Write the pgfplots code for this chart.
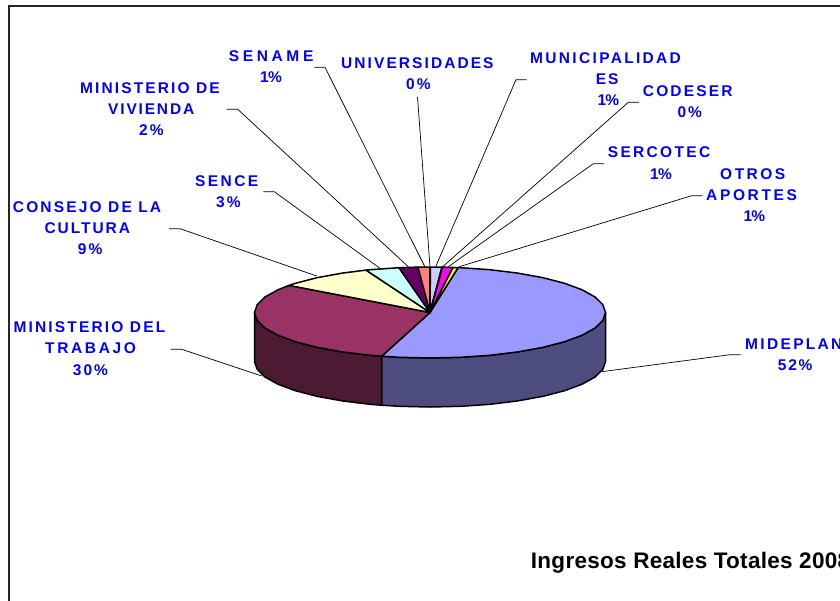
\documentclass[border=0pt]{standalone}
\usepackage{fontspec}
\setmainfont{Liberation Sans}
\usepackage{pgfplots}
\pgfplotsset{compat=1.18}
\definecolor{cMide}{HTML}{9999FF}
\definecolor{cTrab}{HTML}{993366}
\definecolor{cCult}{HTML}{FFFFCC}
\definecolor{cSenc}{HTML}{CCFFFF}
\definecolor{cVivi}{HTML}{660066}
\definecolor{cSena}{HTML}{FF8080}
\definecolor{cUniv}{HTML}{0066CC}
\definecolor{cMuni}{HTML}{CCCCFF}
\definecolor{cCode}{HTML}{000080}
\definecolor{cSerc}{HTML}{FF00FF}
\definecolor{cOtro}{HTML}{FFFF00}
\definecolor{cMideD}{HTML}{4D4D80}
\definecolor{cTrabD}{HTML}{4D1A33}
\definecolor{cBlue}{HTML}{0000FF}
\newcommand\lab[4]{\node[anchor=base west,inner sep=0pt,text=cBlue,font=\fontsize{15.5pt}{15.5pt}\selectfont\bfseries] at (axis cs:#1,#2) {\addfontfeature{LetterSpace=#3}#4};}
\begin{document}
\begin{tikzpicture}
\useasboundingbox (0,0) rectangle (840pt,600pt);
\clip (0,0) rectangle (840pt,600pt);
\begin{axis}[
  at={(0,0)},anchor=south west,
  width=840pt,height=600pt,scale only axis,
  xmin=0,xmax=840,ymin=0,ymax=600,y dir=reverse,
  hide axis,
  pie/.style={draw=black,line width=1.5pt,line join=round},
  lead/.style={draw=black,line width=0.7pt,mark=none},
]
% frame
\addplot[draw=black!85,line width=1.2pt] coordinates {(9,620) (9,6) (860,6)};
% walls
\addplot[pie,fill=cMideD] coordinates {
(381.7,356.2)(399.5,357.3)(430,358)(460.5,357.3)(490,355.3)(517.75,351.9)(542.8,347.35)(564.4,341.75)(582,335.25)(594.9,328.1)(602.8,320.4)(605.5,312.5)
(605.5,361.5)(602.8,369.4)(594.9,377.1)(582,384.25)(564.4,390.75)(542.8,396.35)(517.75,400.9)(490,404.3)(460.5,406.3)(430,407)(399.5,406.3)(381.7,405.2)} --cycle;
\addplot[pie,fill=cTrabD] coordinates {
(254.5,312.5)(257.2,320.4)(265.1,328.1)(278,335.25)(295.6,341.75)(317.2,347.35)(342.25,351.9)(370,355.3)(381.7,356.2)
(381.7,405.2)(370,404.3)(342.25,400.9)(317.2,396.35)(295.6,390.75)(278,384.25)(265.1,377.1)(257.2,369.4)(254.5,361.5)} --cycle;
% top surface
\addplot[pie,fill=cMide] coordinates {
(430,312.5)(458,267.7)(460.5,267.7)(490,269.7)(517.75,273.1)(542.8,277.65)(564.4,283.25)(582,289.75)(594.9,296.9)(602.8,304.6)(605.5,312.5)
(602.8,320.4)(594.9,328.1)(582,335.25)(564.4,341.75)(542.8,347.35)(517.75,351.9)(490,355.3)(460.5,357.3)(430,358)(399.5,357.3)(381.7,356.2)} --cycle;
\addplot[pie,fill=cTrab] coordinates {
(430,312.5)(381.7,356.2)(370,355.3)(342.25,351.9)(317.2,347.35)(295.6,341.75)(278,335.25)(265.1,328.1)(257.2,320.4)(254.5,312.5)
(257.2,304.6)(265.1,296.9)(278,289.75)(289,285.4)} --cycle;
\addplot[pie,fill=cCult] coordinates {(430,312.5)(289,285.4)(295.6,283.25)(317.2,277.65)(342.25,273.1)(366,270.1)} --cycle;
\addplot[pie,fill=cSenc] coordinates {(430,312.5)(366,270.1)(370,269.7)(399,267.7)} --cycle;
\addplot[pie,fill=cVivi] coordinates {(430,312.5)(399,267.7)(418,267.1)} --cycle;
\addplot[pie,fill=cSena] coordinates {(430,312.5)(418,267.1)(430,267)} --cycle;
\addplot[pie,fill=cUniv] coordinates {(430,312.5)(430,267)(430.4,267)} --cycle;
\addplot[pie,fill=cMuni] coordinates {(430,312.5)(430.4,267)(442,267.1)} --cycle;
\addplot[pie,fill=cCode] coordinates {(430,312.5)(442,267.1)(442.6,267.1)} --cycle;
\addplot[pie,fill=cSerc] coordinates {(430,312.5)(442.6,267.1)(453,267.5)} --cycle;
\addplot[pie,fill=cOtro] coordinates {(430,312.5)(453,267.5)(458,267.7)} --cycle;
% leaders
\addplot[lead] coordinates {(314.3,67.3)(325,67.3)(425,267)};
\addplot[lead] coordinates {(226.7,109.3)(237.7,109.3)(408.3,266.7)};
\addplot[lead] coordinates {(263.3,191.7)(274.3,191.7)(380,268.3)};
\addplot[lead] coordinates {(169,228.7)(180,228.7)(316.7,276)};
\addplot[lead] coordinates {(417.5,97)(430,267)};
\addplot[lead] coordinates {(526.7,79.7)(516,79.7)(435.7,266.7)};
\addplot[lead] coordinates {(639,102.3)(628.3,102.3)(442.7,266.7)};
\addplot[lead] coordinates {(604,163.7)(593.3,163.7)(448.3,266.7)};
\addplot[lead] coordinates {(702.7,195.7)(691.7,195.7)(459.3,266.7)};
\addplot[lead] coordinates {(170.7,349.3)(181.7,349.3)(261.7,376)};
\addplot[lead] coordinates {(740.7,354.7)(730,354.7)(601.7,371.7)};
% labels
\lab{228.7}{61.5}{23.4}{SENAME}
\lab{260}{82.5}{-5}{1\%}
\lab{80}{93}{13.7}{MINISTERIO DE}
\lab{108}{114.5}{11.8}{VIVIENDA}
\lab{139}{135}{13.5}{2\%}
\lab{195}{186}{15.5}{SENCE}
\lab{216}{207}{13.5}{3\%}
\lab{12.7}{212}{14}{CONSEJO DE LA}
\lab{44.3}{233}{12.7}{CULTURA}
\lab{77.7}{254.7}{13.5}{9\%}
\lab{341}{68}{13.4}{UNIVERSIDADES}
\lab{406}{89.3}{13.5}{0\%}
\lab{530}{63.3}{15}{MUNICIPALIDAD}
\lab{595.7}{84}{12.3}{ES}
\lab{597.3}{105.3}{-5}{1\%}
\lab{642.7}{96}{14}{CODESER}
\lab{677.3}{117}{13.5}{0\%}
\lab{607.7}{157.7}{14.9}{SERCOTEC}
\lab{650}{179.3}{-5}{1\%}
\lab{720}{179}{16}{OTROS}
\lab{706}{200}{17}{APORTES}
\lab{743.3}{221.3}{-5}{1\%}
\lab{13.3}{332.7}{14}{MINISTERIO DEL}
\lab{45}{353.7}{17}{TRABAJO}
\lab{72.7}{375.3}{13}{30\%}
\lab{745}{349}{15}{MIDEPLAN}
\lab{777.7}{370}{11.6}{52\%}
\node[anchor=base west,inner sep=0pt,text=black,font=\fontsize{22.5pt}{22.5pt}\selectfont\bfseries] at (axis cs:530.7,568) {\addfontfeature{LetterSpace=1.3}Ingresos Reales Totales 2008};
\end{axis}
\end{tikzpicture}
\end{document}
